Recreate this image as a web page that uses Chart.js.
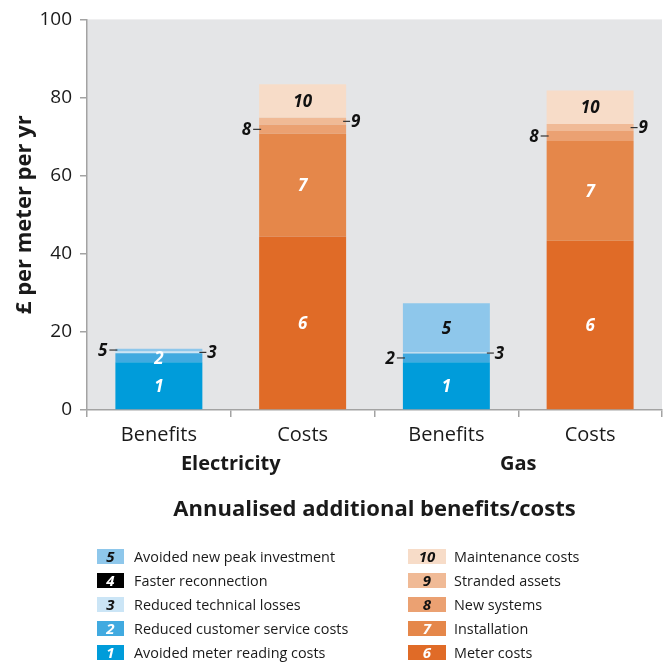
<!DOCTYPE html>
<html>
<head>
<meta charset="utf-8">
<script src="https://cdn.jsdelivr.net/npm/chart.js@4.4.1/dist/chart.umd.min.js"></script>
<style>
  html, body { margin: 0; padding: 0; background: #ffffff; }
  #wrap { width: 665px; height: 662px; }
</style>
</head>
<body>
<div id="wrap"><canvas id="chart" width="665" height="662"></canvas></div>
<script>
// Bars: Electricity benefits, Electricity costs, Gas benefits, Gas costs
const categories = ['Benefits', 'Costs', 'Benefits', 'Costs'];
const groups = ['Electricity', 'Gas'];
const yTicks = [0, 20, 40, 60, 80, 100];

// Series numbers and names (numbers are printed on the bars and legend swatches)
const seriesNumbers = [1, 2, 3, 4, 5, 6, 7, 8, 9, 10];
const seriesNames = [
  'Avoided meter reading costs',
  'Reduced customer service costs',
  'Reduced technical losses',
  'Faster reconnection',
  'Avoided new peak investment',
  'Meter costs',
  'Installation',
  'New systems',
  'Stranded assets',
  'Maintenance costs'
];

// £ per meter per year
const avoidedMeterReading   = [12.2, 0, 12.2, 0];
const reducedCustomerService = [2.3, 0, 2.25, 0];
const reducedTechnicalLosses = [0.5, 0, 0.25, 0];
const fasterReconnection     = [0, 0, 0, 0];
const avoidedPeakInvestment  = [0.7, 0, 12.6, 0];
const meterCosts             = [0, 44.4, 0, 43.3];
const installation           = [0, 26.3, 0, 25.6];
const newSystems             = [0, 2.3, 0, 2.5];
const strandedAssets         = [0, 1.8, 0, 1.8];
const maintenanceCosts       = [0, 8.6, 0, 8.6];

const seriesValues = [
  avoidedMeterReading, reducedCustomerService, reducedTechnicalLosses,
  fasterReconnection, avoidedPeakInvestment, meterCosts, installation,
  newSystems, strandedAssets, maintenanceCosts
];

// Styling
const seriesColors = [
  '#009cda', '#41aae0', '#cbe5f6', '#000000', '#8ec7eb',
  '#e06b27', '#e5874a', '#eba172', '#f0ba96', '#f7dcc8'
];
const numberColors = [
  '#ffffff', '#ffffff', '#111111', '#ffffff', '#111111',
  '#ffffff', '#ffffff', '#111111', '#111111', '#111111'
];
// where each segment's number goes: 'in', 'left', 'right' or null
const labelSide = [
  ['in', null, 'in', null],
  ['in', null, 'left', null],
  ['right', null, 'right', null],
  [null, null, null, null],
  ['left', null, 'in', null],
  [null, 'in', null, 'in'],
  [null, 'in', null, 'in'],
  [null, 'left', null, 'left'],
  [null, 'right', null, 'right'],
  [null, 'in', null, 'in']
];

const FONT = '"Open Sans", "Noto Sans", sans-serif';
const TEXT = '#1a1a1a';
const AXIS = '#a3a3a3';
const PLOT_BG = '#e4e5e7';

const datasets = seriesValues.map((vals, i) => ({
  label: seriesNames[i],
  data: vals,
  backgroundColor: seriesColors[i],
  borderWidth: 0,
  barPercentage: 0.605,
  categoryPercentage: 1.0
}));

const plotBackground = {
  id: 'plotBackground',
  beforeDraw(chart) {
    const { ctx, chartArea: a } = chart;
    ctx.save();
    ctx.fillStyle = PLOT_BG;
    ctx.fillRect(a.left, a.top, a.right - a.left, a.bottom - a.top);
    ctx.restore();
  }
};

const segmentNumbers = {
  id: 'segmentNumbers',
  afterDatasetsDraw(chart) {
    const ctx = chart.ctx;
    ctx.save();
    ctx.font = 'italic bold 17px ' + FONT;
    ctx.textBaseline = 'middle';
    chart.data.datasets.forEach((ds, i) => {
      const meta = chart.getDatasetMeta(i);
      meta.data.forEach((bar, j) => {
        const side = labelSide[i][j];
        if (!side || !(ds.data[j] > 0)) return;
        const p = bar.getProps(['x', 'y', 'base', 'width'], true);
        const cy = (p.y + p.base) / 2;
        const left = p.x - p.width / 2;
        const right = p.x + p.width / 2;
        const txt = String(seriesNumbers[i]);
        if (side === 'in') {
          ctx.fillStyle = numberColors[i];
          ctx.textAlign = 'center';
          ctx.fillText(txt, p.x, cy + 1);
        } else {
          ctx.strokeStyle = '#333333';
          ctx.lineWidth = 1.2;
          ctx.beginPath();
          if (side === 'left') {
            ctx.moveTo(left - 6, cy); ctx.lineTo(left + 2, cy);
          } else {
            ctx.moveTo(right - 3, cy); ctx.lineTo(right + 4, cy);
          }
          ctx.stroke();
          ctx.fillStyle = '#111111';
          if (side === 'left') {
            ctx.textAlign = 'right';
            ctx.fillText(txt, left - 8, cy + 1);
          } else {
            ctx.textAlign = 'left';
            ctx.fillText(txt, right + 5, cy + 1);
          }
        }
      });
    });
    ctx.restore();
  }
};

// Two-column legend: benefits (5..1) on the left, costs (10..6) on the right
const numberedLegend = {
  id: 'numberedLegend',
  afterDraw(chart) {
    const ctx = chart.ctx;
    const columns = [
      { order: [4, 3, 2, 1, 0], swatchX: 97, swatchW: 27, textX: 134 },
      { order: [9, 8, 7, 6, 5], swatchX: 408, swatchW: 38, textX: 454 }
    ];
    const rowTop = 556.5, rowGap = 24, swatchH = 15;
    ctx.save();
    ctx.textBaseline = 'middle';
    columns.forEach(col => {
      col.order.forEach((i, r) => {
        const cy = rowTop + r * rowGap;
        const ds = chart.data.datasets[i];
        ctx.fillStyle = ds.backgroundColor;
        ctx.fillRect(col.swatchX, cy - swatchH / 2, col.swatchW, swatchH);
        ctx.font = 'italic bold 15px ' + FONT;
        ctx.textAlign = 'center';
        ctx.fillStyle = numberColors[i];
        ctx.fillText(String(seriesNumbers[i]), col.swatchX + col.swatchW / 2, cy + 1);
        ctx.font = '14.4px ' + FONT;
        ctx.textAlign = 'left';
        ctx.fillStyle = TEXT;
        ctx.fillText(ds.label, col.textX, cy + 1);
      });
    });
    ctx.restore();
  }
};

new Chart(document.getElementById('chart'), {
  type: 'bar',
  data: { labels: categories, datasets },
  plugins: [plotBackground, segmentNumbers, numberedLegend],
  options: {
    responsive: false,
    animation: false,
    layout: { padding: { top: 14, right: 3, bottom: 130, left: 0 } },
    plugins: { legend: { display: false }, tooltip: { enabled: false } },
    scales: {
      x: {
        stacked: true,
        position: 'bottom',
        weight: 0,
        grid: { display: true, drawOnChartArea: false, offset: true, tickLength: 7, color: AXIS, lineWidth: 1.5 },
        border: { display: true, color: AXIS, width: 1.5 },
        ticks: { color: TEXT, font: { family: FONT, size: 20 }, padding: 6, maxRotation: 0 },
        afterFit(scale) { scale.height = 42; }
      },
      groups: {
        type: 'category',
        labels: groups,
        position: 'bottom',
        weight: 1,
        offset: true,
        grid: { display: false, drawTicks: false },
        border: { display: false },
        ticks: { color: TEXT, font: { family: FONT, size: 20, weight: 'bold' }, padding: 0, maxRotation: 0 },
        title: {
          display: true,
          text: 'Annualised additional benefits/costs',
          color: TEXT,
          font: { family: FONT, size: 22, weight: 'bold' },
          padding: { top: 0, bottom: 9 }
        },
        afterFit(scale) { scale.height = 80; }
      },
      y: {
        stacked: true,
        min: 0,
        max: 100,
        afterBuildTicks(scale) { scale.ticks = yTicks.map(v => ({ value: v })); },
        grid: { display: true, drawOnChartArea: false, tickLength: 7, color: AXIS, lineWidth: 1.5 },
        border: { display: true, color: AXIS, width: 1.5 },
        ticks: { color: TEXT, font: { family: FONT, size: 19 }, padding: 8 },
        title: {
          display: true,
          text: '£ per meter per yr',
          color: TEXT,
          font: { family: FONT, size: 22, weight: 'bold' },
          padding: { top: 12, bottom: 0 }
        },
        afterFit(scale) { scale.width = 87; }
      }
    }
  }
});
</script>
</body>
</html>
